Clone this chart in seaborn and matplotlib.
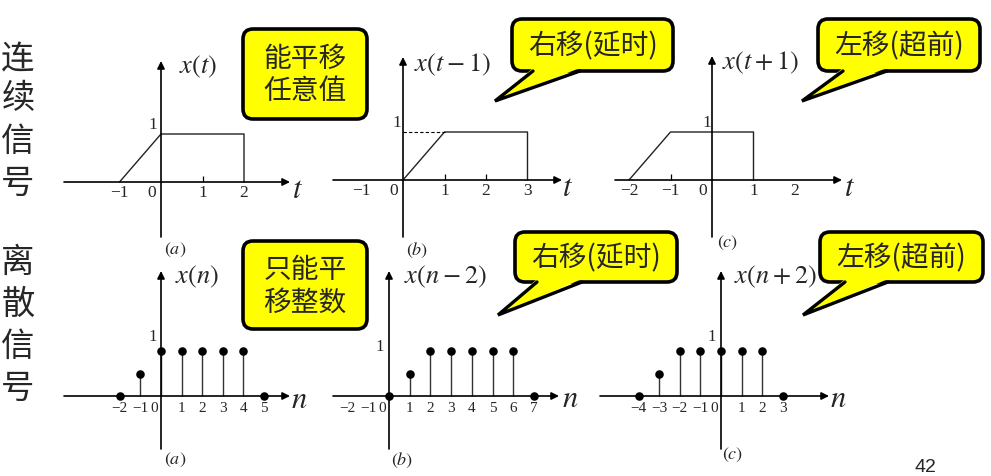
import matplotlib
import seaborn as sns

matplotlib.use("Agg")
import matplotlib.pyplot as plt
from matplotlib.patches import FancyBboxPatch, Polygon

# continuous signals (breakpoints)
ct_a = [-1, 0, 2, 2]
cx_a = [0, 1, 1, 0]
ct_b = [0, 1, 3, 3]
cx_b = [0, 1, 1, 0]
ct_c = [-2, -1, 1, 1]
cx_c = [0, 1, 1, 0]

# discrete sequences
n_a = [-2, -1, 0, 1, 2, 3, 4, 5]
xn_a = [0, 0.5, 1, 1, 1, 1, 1, 0]
n_b = [0, 1, 2, 3, 4, 5, 6, 7]
xn_b = [0, 0.5, 1, 1, 1, 1, 1, 0]
n_c = [-4, -3, -2, -1, 0, 1, 2, 3]
xn_c = [0, 0.5, 1, 1, 1, 1, 1, 0]

# tick labels on the horizontal axes
tick_a = [-1, 0, 1, 2]
tick_b = [-1, 0, 1, 2, 3]
tick_c = [-2, -1, 0, 1, 2]
ntick_a = [-2, -1, 0, 1, 2, 3, 4, 5]
ntick_b = [-2, -1, 0, 1, 2, 3, 4, 5, 6, 7]
ntick_c = [-4, -3, -2, -1, 0, 1, 2, 3]

# small tick marks drawn on the t axis
mark_a = [1]
mark_b = [1, 2]
mark_c = [-1]

cont_titles = ["$x(t)$", "$x(t-1)$", "$x(t+1)$"]
disc_titles = ["$x(n)$", "$x(n-2)$", "$x(n+2)$"]
captions = ["$(a)$", "$(b)$", "$(c)$"]
callouts_top = ["能平移\n任意值", "右移(延时)", "左移(超前)"]
callouts_bottom = ["只能平\n移整数", "右移(延时)", "左移(超前)"]
row_labels = ["连续信号", "离散信号"]
page_number = "42"

W, H = 991, 477
CJK = ["Noto Sans CJK SC", "DejaVu Sans"]
SERIF = "Liberation Serif"

sns.set_theme(style="white")
plt.rcParams["font.family"] = CJK
plt.rcParams["mathtext.fontset"] = "stix"

fig = plt.figure(figsize=(W / 100, H / 100), dpi=100)
fig.patch.set_facecolor("white")
bg = fig.add_axes([0, 0, 1, 1])
bg.set_xlim(0, W)
bg.set_ylim(H, 0)
bg.axis("off")


def panel_axes(ox, oy, ux, uy, left, right, top, bottom):
    ax = fig.add_axes([left / W, 1 - bottom / H, (right - left) / W, (bottom - top) / H])
    ax.set_xlim((left - ox) / ux, (right - ox) / ux)
    ax.set_ylim((oy - bottom) / uy, (oy - top) / uy)
    ax.axis("off")
    ax.patch.set_alpha(0)
    x0, x1 = ax.get_xlim()
    y0, y1 = ax.get_ylim()
    arrow = dict(arrowstyle="-|>", color="black", lw=1.2, mutation_scale=11,
                 shrinkA=0, shrinkB=0)
    ax.annotate("", xy=(x1, 0), xytext=(x0, 0), arrowprops=arrow, annotation_clip=False)
    ax.annotate("", xy=(0, y1), xytext=(0, y0), arrowprops=arrow, annotation_clip=False)
    return ax


def tick_labels(ax, ticks, size, dy, zero_dx):
    for v in ticks:
        dx = zero_dx if v == 0 else 0
        ax.annotate(str(v).replace("-", "\u2212"), xy=(v, 0), xytext=(dx, dy),
                    textcoords="offset points", ha="center", va="center",
                    fontsize=size, family=SERIF)


def one_label(ax, dx, dy, size):
    ax.annotate("1", xy=(0, 1), xytext=(dx, dy), textcoords="offset points",
                ha="center", va="center", fontsize=size, family=SERIF)


def callout(x0, y0, x1, y1, text, tail=None, size=20):
    box = FancyBboxPatch((x0, y0), x1 - x0, y1 - y0,
                         boxstyle="round,pad=0,rounding_size=10",
                         facecolor="#FFFF00", edgecolor="black", lw=2.6, zorder=3)
    bg.add_patch(box)
    if tail is not None:
        b1, b2, tip = tail
        bg.add_patch(Polygon([(b1, y1 - 3), tip, (b2, y1 - 3)], closed=True,
                             facecolor="#FFFF00", edgecolor="none", zorder=4))
        bg.plot([b1, tip[0], b2], [y1, tip[1], y1], color="black", lw=2.4,
                zorder=5, solid_joinstyle="miter")
    bg.text((x0 + x1) / 2, (y0 + y1) / 2, text, ha="center", va="center",
            fontsize=size, family=CJK, linespacing=1.1, zorder=6)


# ---- continuous row ----
cont = [
    (ct_a, cx_a, tick_a, mark_a, (161, 183, 64, 290, 62, 238)),
    (ct_b, cx_b, tick_b, mark_b, (403, 181, 333, 562, 58, 238)),
    (ct_c, cx_c, tick_c, mark_c, (712, 181, 615, 842, 57, 238)),
]
one_offsets_top = [(-6, 7), (-4.5, 7), (-3.5, 7)]
cont_axes = []
for i, (t, x, ticks, marks, g) in enumerate(cont):
    ox, oy, left, right, top, bottom = g
    ax = panel_axes(ox, oy, 41.5, 48, left, right, top, bottom)
    sns.lineplot(x=t, y=x, ax=ax, color="#222222", lw=1.0, sort=False, estimator=None)
    ax.vlines(marks, 0, 0.12, color="black", lw=0.9)
    tick_labels(ax, ticks, 12.5, -7.5, -6.5)
    one_label(ax, *one_offsets_top[i], 12.5)
    cont_axes.append(ax)
cont_axes[1].hlines(1, 0, 1, color="black", lw=0.8, linestyles=(0, (3, 2)))

# ---- discrete row ----
disc = [
    (n_a, xn_a, ntick_a, (161, 397, 20.6, 64, 290)),
    (n_b, xn_b, ntick_b, (389, 397, 20.7, 333, 559)),
    (n_c, xn_c, ntick_c, (721, 397, 20.6, 600, 829)),
]
one_offsets_bot = [(-6, 11), (-6.5, 3.5), (-7, 11)]
for i, (n, x, ticks, g) in enumerate(disc):
    ox, oy, ux, left, right = g
    ax = panel_axes(ox, oy, ux, 45, left, right, 272, 450)
    ax.vlines(n, 0, x, color="#333333", lw=1.0)
    sns.scatterplot(x=n, y=x, ax=ax, color="black", s=38, linewidth=0, zorder=5,
                    clip_on=False)
    tick_labels(ax, ticks, 11, -8.5, -5.2)
    one_label(ax, *one_offsets_bot[i], 12)

# ---- titles, axis names, captions ----
for s, (x, y) in zip(cont_titles, [(198, 67), (452, 65), (760, 63)]):
    bg.text(x, y, s, ha="center", va="center", fontsize=19)
for s, (x, y) in zip(disc_titles, [(197, 277), (445, 277), (775, 277)]):
    bg.text(x, y, s, ha="center", va="center", fontsize=19)
for x, y in [(298, 190), (568, 188), (850, 188)]:
    bg.text(x, y, "$t$", ha="center", va="center", fontsize=22)
for x, y in [(299, 400), (570, 399), (838, 399)]:
    bg.text(x, y, "$n$", ha="center", va="center", fontsize=22)
for s, (x, y) in zip(captions, [(175, 250), (417, 250), (728, 243)]):
    bg.text(x, y, s, ha="center", va="center", fontsize=13)
for s, (x, y) in zip(captions, [(175, 460), (402, 460), (733, 455)]):
    bg.text(x, y, s, ha="center", va="center", fontsize=13)

# ---- callouts ----
callout(243, 30, 367, 120, callouts_top[0])
callout(512, 20, 673, 72, callouts_top[1], tail=(533, 580, (495, 102)))
callout(818, 20, 980, 72, callouts_top[2], tail=(843, 887, (802, 102)))
callout(243, 242, 367, 330, callouts_bottom[0])
callout(515, 233, 677, 283, callouts_bottom[1], tail=(537, 582, (498, 316)))
callout(820, 233, 983, 283, callouts_bottom[2], tail=(845, 888, (803, 316)))

# ---- row labels and page number ----
for label, ys in zip(row_labels, [[60, 99, 141, 183], [262, 304, 346, 388]]):
    for ch, y in zip(label, ys):
        bg.text(18, y, ch, ha="center", va="center", fontsize=24, family=CJK)
bg.text(925, 468, page_number, ha="center", va="center", fontsize=14,
        family="Liberation Sans")

fig.savefig("out.png", dpi=100)
plt.close(fig)
